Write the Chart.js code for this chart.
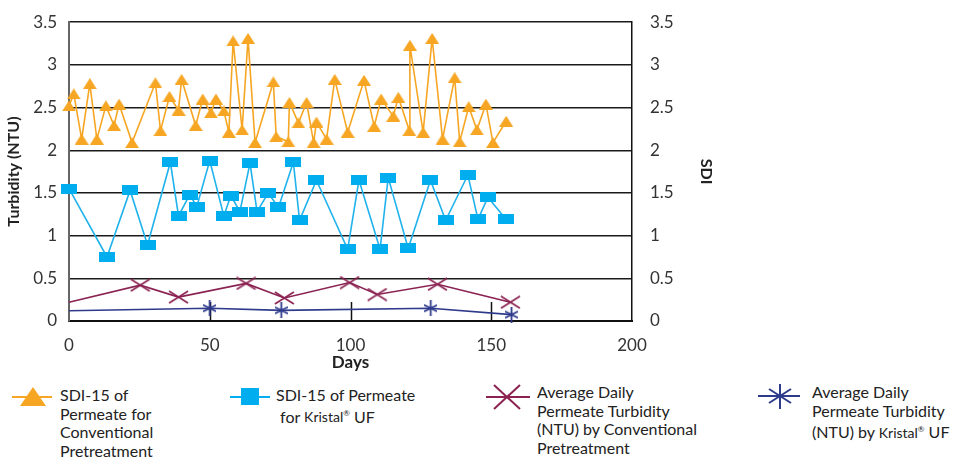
<!DOCTYPE html>
<html>
<head>
<meta charset="utf-8">
<script src="https://cdn.jsdelivr.net/npm/chart.js@4.4.0/dist/chart.umd.min.js"></script>
<style>
  html,body{margin:0;padding:0;background:#fff;}
  body{width:967px;height:458px;position:relative;overflow:hidden;font-family:Lato,sans-serif;color:#222;}
  #wrap{position:absolute;left:0;top:0;width:967px;height:374px;}
  .mk{position:absolute;}
  .txt{position:absolute;top:386px;font-size:16px;line-height:18.5px;white-space:nowrap;}
  .k{font-size:14px;}
  .k sup{font-size:8px;}
</style>
</head>
<body>
<div id="wrap"><canvas id="chart" width="967" height="374"></canvas></div>

<!-- legend -->
<svg class="mk" style="left:10px;top:386px" width="46" height="22">
  <line x1="2" y1="11" x2="42" y2="11" stroke="#F6A623" stroke-width="2"/>
  <polygon points="10,20 23,1 36,20" fill="#F6A623"/>
</svg>
<div class="txt" style="left:60px">SDI-15 of<br>Permeate for<br>Conventional<br>Pretreatment</div>

<svg class="mk" style="left:228px;top:386px" width="44" height="22">
  <line x1="2" y1="11" x2="42" y2="11" stroke="#00AEEF" stroke-width="2"/>
  <rect x="13" y="2" width="18" height="17" fill="#00AEEF"/>
</svg>
<div class="txt" style="left:276px">SDI-15 of Permeate<br>&nbsp;for <span class="k">Kristal<sup>®</sup></span> UF</div>

<svg class="mk" style="left:484px;top:384px" width="48" height="28">
  <line x1="2" y1="13" x2="46" y2="13" stroke="#8B2252" stroke-width="2"/>
  <line x1="10" y1="1" x2="36" y2="25" stroke="#8B2252" stroke-width="2"/>
  <line x1="10" y1="25" x2="36" y2="1" stroke="#8B2252" stroke-width="2"/>
</svg>
<div class="txt" style="left:537px;top:383px">Average Daily<br>Permeate Turbidity<br>(NTU) by Conventional<br>Pretreatment</div>

<svg class="mk" style="left:756px;top:383px" width="46" height="28">
  <line x1="2" y1="13" x2="44" y2="13" stroke="#2E3A8C" stroke-width="2"/>
  <line x1="24" y1="1" x2="24" y2="26" stroke="#2E3A8C" stroke-width="2"/>
  <line x1="13" y1="6" x2="35" y2="20" stroke="#2E3A8C" stroke-width="2"/>
  <line x1="13" y1="20" x2="35" y2="6" stroke="#2E3A8C" stroke-width="2"/>
</svg>
<div class="txt" style="left:812px;top:383px">Average Daily<br>Permeate Turbidity<br>(NTU) by <span class="k">Kristal<sup>®</sup></span> UF</div>

<script>
// ===== Data =====
const sdiConvDays = [0, 1.7, 4.5, 7.4, 9.9, 13.1, 16.0, 17.8, 22.4, 30.7, 32.5, 35.7, 38.9, 40.0, 45.0, 47.5, 50.4, 52.2, 55.0, 56.8,
  58.3, 61.5, 63.6, 66.1, 72.6, 73.6, 77.9, 78.3, 81.5, 84.4, 86.9, 87.9, 91.5, 94.4, 99.0, 104.8, 108.4, 110.9, 115.2, 117.0,
  120.9, 121.1, 125.8, 129.0, 132.7, 137.0, 138.8, 142.0, 144.9, 148.1, 150.6, 155.3];
const sdiConvValues = [2.52, 2.66, 2.13, 2.78, 2.13, 2.52, 2.29, 2.54, 2.09, 2.79, 2.23, 2.63, 2.47, 2.83, 2.29, 2.60, 2.44, 2.60, 2.46, 2.21,
  3.28, 2.24, 3.31, 2.09, 2.80, 2.16, 2.10, 2.56, 2.32, 2.56, 2.09, 2.33, 2.13, 2.83, 2.21, 2.82, 2.28, 2.60, 2.40, 2.62,
  2.23, 3.23, 2.21, 3.31, 2.13, 2.85, 2.10, 2.51, 2.24, 2.54, 2.09, 2.34];

const sdiUfDays = [0, 13.5, 21.7, 27.9, 36.0, 38.9, 42.9, 45.4, 50.0, 55.0, 57.5, 60.7, 64.3, 66.8, 70.8, 74.4, 79.7, 81.9,
  87.9, 99.0, 103.0, 110.5, 113.4, 120.5, 128.4, 133.8, 141.7, 145.3, 148.8, 155.3];
const sdiUfValues = [1.55, 0.75, 1.53, 0.89, 1.86, 1.23, 1.48, 1.34, 1.88, 1.23, 1.47, 1.28, 1.85, 1.28, 1.50, 1.33, 1.86, 1.18,
  1.65, 0.84, 1.65, 0.84, 1.68, 0.85, 1.65, 1.18, 1.71, 1.19, 1.45, 1.19];

const turbConvDays = [0, 25.3, 38.9, 62.9, 76.5, 99.7, 109.5, 130.9, 156.8];
const turbConvValues = [0.22, 0.42, 0.28, 0.44, 0.27, 0.45, 0.31, 0.43, 0.22];

const turbUfDays = [0, 50, 75.4, 128.5, 157.2];
const turbUfValues = [0.12, 0.15, 0.125, 0.15, 0.075];

const xTicks = [0, 50, 100, 150, 200];
const yTicks = [0, 0.5, 1, 1.5, 2, 2.5, 3, 3.5];

const ORANGE = '#F6A623', BLUE = '#00AEEF', PURPLE = '#8B2252', NAVY = '#2E3A8C';

function toPoints(days, vals){ return days.map((d,i)=>({x:d, y:vals[i]})); }

// ===== Marker images =====
function makeMarker(w, h, draw){
  const c = document.createElement('canvas');
  c.width = w; c.height = h;
  draw(c.getContext('2d'), w, h);
  return c;
}
const triMarker = makeMarker(14, 11, (g,w,h)=>{
  g.fillStyle = ORANGE; g.beginPath(); g.moveTo(0,h); g.lineTo(w/2,0); g.lineTo(w,h); g.closePath(); g.fill();
});
const sqMarker = makeMarker(16, 10, (g,w,h)=>{ g.fillStyle = BLUE; g.fillRect(0,0,w,h); });
const xMarker = makeMarker(21, 14, (g,w,h)=>{
  g.strokeStyle = PURPLE; g.lineWidth = 1.6; g.beginPath();
  g.moveTo(1,1); g.lineTo(w-1,h-1); g.moveTo(1,h-1); g.lineTo(w-1,1); g.stroke();
});
const starMarker = makeMarker(13, 16, (g,w,h)=>{
  g.strokeStyle = NAVY; g.lineWidth = 1.8; g.beginPath();
  g.moveTo(w/2,0); g.lineTo(w/2,h);
  g.moveTo(0,h*0.3); g.lineTo(w,h*0.7);
  g.moveTo(0,h*0.7); g.lineTo(w,h*0.3);
  g.stroke();
});

// ===== Inward ticks on x axis =====
const innerTicks = {
  id: 'innerTicks',
  beforeDatasetsDraw(chart){
    const {ctx, chartArea, scales} = chart;
    ctx.save();
    ctx.strokeStyle = '#111'; ctx.lineWidth = 1.5;
    xTicks.slice(1, -1).forEach(v=>{
      const x = Math.round(scales.x.getPixelForValue(v)) + 0.5;
      ctx.beginPath(); ctx.moveTo(x, chartArea.bottom); ctx.lineTo(x, chartArea.bottom - 19); ctx.stroke();
    });
    ctx.restore();
  }
};

// ===== Chart =====
Chart.defaults.font.family = 'Lato, sans-serif';
Chart.defaults.color = '#222';

const hideFirst = size => c => c.dataIndex === 0 ? 0 : size;
const plainNum = v => String(v);

new Chart(document.getElementById('chart').getContext('2d'), {
  type: 'line',
  data: {
    datasets: [
      { label: 'SDI-15 of Permeate for Conventional Pretreatment', data: toPoints(sdiConvDays, sdiConvValues), yAxisID: 'y2',
        borderColor: ORANGE, borderWidth: 1.6, pointStyle: triMarker, pointRadius: 6, clip: false },
      { label: 'SDI-15 of Permeate for Kristal UF', data: toPoints(sdiUfDays, sdiUfValues), yAxisID: 'y2',
        borderColor: '#1FB2EC', borderWidth: 1.6, pointStyle: sqMarker, pointRadius: 6, clip: false },
      { label: 'Average Daily Permeate Turbidity (NTU) by Conventional Pretreatment', data: toPoints(turbConvDays, turbConvValues), yAxisID: 'y',
        borderColor: PURPLE, borderWidth: 1.6, pointStyle: xMarker, pointRadius: hideFirst(6), clip: false },
      { label: 'Average Daily Permeate Turbidity (NTU) by Kristal UF', data: toPoints(turbUfDays, turbUfValues), yAxisID: 'y',
        borderColor: NAVY, borderWidth: 1.6, pointStyle: starMarker, pointRadius: hideFirst(6), clip: false }
    ]
  },
  options: {
    responsive: false,
    animation: false,
    layout: { padding: { left: 4, right: 251, top: 17, bottom: 0 } },
    plugins: { legend: { display: false }, tooltip: { enabled: false } },
    scales: {
      x: {
        type: 'linear', min: 0, max: 200,
        afterBuildTicks: s => { s.ticks = xTicks.map(v=>({value:v})); },
        afterFit: s => { s.height = 53; },
        grid: { display: false },
        border: { display: true, color: '#111', width: 2 },
        ticks: { font: { size: 17 }, color: '#333', padding: 6, maxRotation: 0, callback: plainNum },
        title: { display: true, text: 'Days', font: { size: 17, weight: 'bold' }, color: '#222', padding: { top: 0, bottom: 1 } }
      },
      y: {
        position: 'left', min: 0, max: 3.5,
        afterBuildTicks: s => { s.ticks = yTicks.map(v=>({value:v})); },
        afterFit: s => { s.width = 65; },
        grid: { color: '#1a1a1a', lineWidth: 1.5, drawTicks: false },
        border: { display: true, color: '#666', width: 2 },
        ticks: { font: { size: 17 }, color: '#333', padding: 12, callback: plainNum },
        title: { display: true, text: 'Turbidity (NTU)', font: { size: 16, weight: 'bold' }, color: '#222', padding: { top: 0, bottom: 7 } }
      },
      y2: {
        position: 'right', min: 0, max: 3.5,
        afterBuildTicks: s => { s.ticks = yTicks.map(v=>({value:v})); },
        afterFit: s => { s.width = 84; },
        grid: { display: false, drawOnChartArea: false },
        border: { display: true, color: '#111', width: 1.5 },
        ticks: { font: { size: 17 }, color: '#333', padding: 10, callback: plainNum },
        title: { display: true, text: 'SDI', font: { size: 16, weight: 'bold' }, color: '#222', padding: { top: 0, bottom: 8 } }
      }
    }
  },
  plugins: [innerTicks]
});
</script>
</body>
</html>
